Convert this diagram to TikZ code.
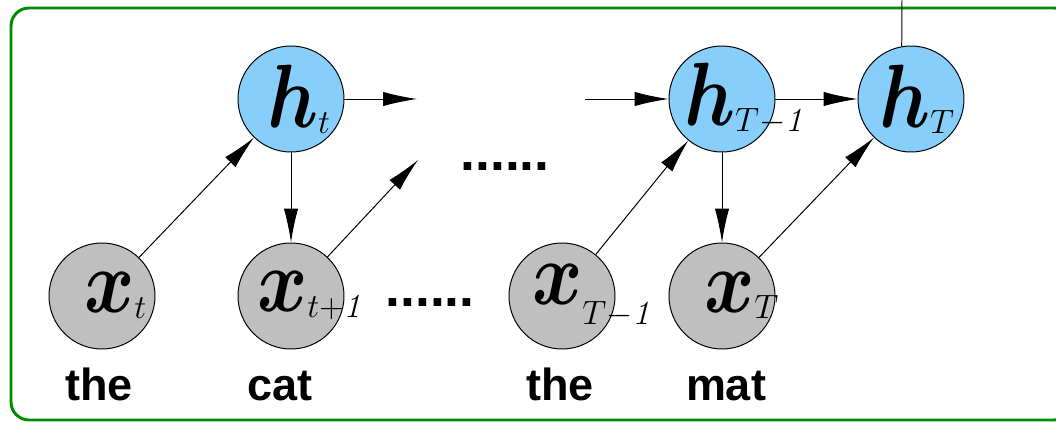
\RequirePackage{fix-cm}
\documentclass[tikz,border=0pt]{standalone}
\usepackage{amsmath,bm,graphicx}
\usepackage{fontspec}
\newfontfamily\wordfont{Liberation Sans}
\usetikzlibrary{arrows.meta, positioning}
\DeclareMathSizes{64}{64}{24}{16}
\definecolor{cframe}{RGB}{0,140,0}
\definecolor{chid}{RGB}{135,206,250}
\definecolor{cobs}{RGB}{191,191,191}
% unit label: letter starts #2 from the centre, subscript dropped by #1
\newcommand{\ulbl}[4][-0.15cm]{\makebox[0pt][l]{\hspace{#2}\scalebox{0.85}[1]{$\bm{#3}$}\raisebox{#1}{$\scriptstyle #4$}}}
\tikzset{
  every picture/.style={line width=0.7pt},
  unit/.style={circle, draw=black, fill=#1, minimum size=2.65cm, inner sep=0pt, font=\fontsize{64}{66}\selectfont},
  hid/.style={unit=chid},
  obs/.style={unit=cobs},
  word/.style={font=\wordfont\bfseries\fontsize{32}{36}\selectfont, anchor=base, inner sep=0pt},
  dots/.style={font=\wordfont\bfseries\fontsize{38}{40}\selectfont, anchor=base, inner sep=0pt},
  arrow/.style={-{Latex[length=8.5mm, width=3.6mm]}},
  frame/.style={draw=cframe, line width=2.1pt, rounded corners=0.45cm},
}

\begin{document}
\begin{tikzpicture}
  \useasboundingbox (0,0) rectangle (26.4,10.525);
  \clip (0,0) rectangle (26.4,10.525);
  \draw[frame] (0.275,0.025) rectangle (26.8,10.325);
  % hidden states
  \node[hid] (ht) at (7.275,8.05) {\ulbl{-0.6cm}{h}{t}};
  \node[hid] (hTm) at (18.05,8.05) {\ulbl{-0.95cm}{h}{T{-}\mathit{1}}};
  \node[hid] (hT) at (22.775,8.05) {\ulbl{-0.8cm}{h}{T}};
  % inputs
  \node[obs] (xt) at (2.55,3.125) {\ulbl{-0.45cm}{x}{t}};
  \node[obs] (xtp) at (7.275,3.125) {\ulbl{-0.85cm}{x}{t{+}\mathit{1}}};
  \node[obs] (xTm) at (14.05,3.125) {\ulbl[-0.5cm]{-0.75cm}{x}{T{-}\mathit{1}}};
  \node[obs] (xT) at (18.05,3.125) {\ulbl{-0.45cm}{x}{T}};
  % words
  \node[word] (w1) at (2.475,0.525) {the};
  \node[word] (w2) at (7.0,0.525) {cat};
  \node[word] (w3) at (14.0,0.525) {the};
  \node[word] (w4) at (18.15,0.525) {mat};
  \node[dots] (dtop) at (12.625,6.275) {......};
  \node[dots] (dbot) at (10.75,2.875) {......};
  % loose ends
  \coordinate (aout) at (10.425,8.05);
  \coordinate (ain) at (14.625,8.05);
  \coordinate (aup) at (10.45,6.525);
  \coordinate (top) at (22.55,10.525);
  \draw[arrow] (xt) -- (ht);
  \draw[arrow] (ht) -- (xtp);
  \draw[arrow] (ht.east) -- (aout);
  \draw[arrow] (xtp) -- (aup);
  \draw[arrow] (ain) -- (hTm.west);
  \draw[arrow] (xTm) -- (hTm);
  \draw[arrow] (hTm) -- (xT);
  \draw[arrow] (hTm) -- (hT);
  \draw[arrow] (xT) -- (hT);
  \draw (hT.100) -- (top);
\end{tikzpicture}
\end{document}
